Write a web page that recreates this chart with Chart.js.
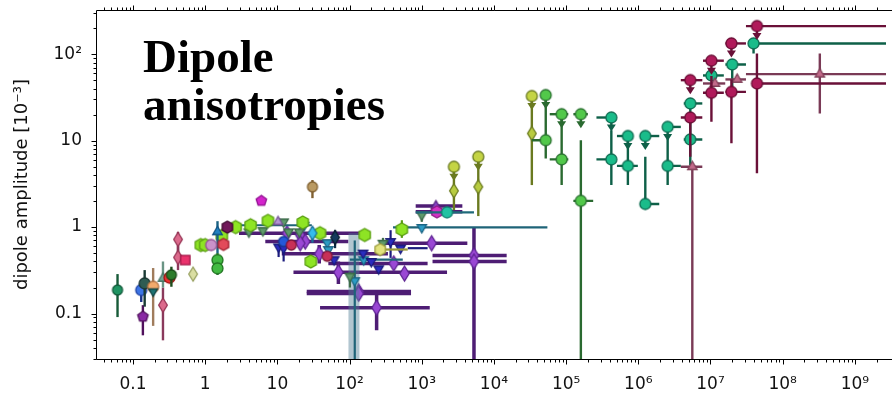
<!DOCTYPE html>
<html lang="en">
<head>
<meta charset="UTF-8">
<title>Dipole anisotropies</title>
<style>
  body { margin: 0; background: #fff; }
  .wrap { position: relative; width: 892px; height: 393px; overflow: hidden; }
  .note {
    position: absolute; left: 143px; top: 32px;
    font: bold 47px/48px 'Liberation Serif', 'Times New Roman', serif;
    color: #000;
  }
</style>
<script src="https://cdn.jsdelivr.net/npm/chart.js"></script>
</head>
<body>
<div class="wrap">
  <canvas id="dipoleChart" width="892" height="393"></canvas>
  <div class="note">Dipole<br>anisotropies</div>
</div>
<script>
// axis ticks
const xTickValues = [0.1, 1, 10, 1e2, 1e3, 1e4, 1e5, 1e6, 1e7, 1e8, 1e9];
const xTickLabels = ['0.1', '1', '10', '10²', '10³', '10⁴', '10⁵', '10⁶', '10⁷', '10⁸', '10⁹'];
const yTickValues = [0.1, 1, 10, 100];
const yTickLabels = ['0.1', '1', '10', '10²'];

// rows: [x, y, xLow, xHigh, yLow, yHigh]
const purpleDiamonds = [
  [13.6, 0.85, 2.94, 180, null, null],
  [20.7, 0.81, null, null, null, null],
  [24.3, 0.68, 6.8, 96, null, null],
  [20.7, 0.65, null, null, null, null],
  [38, 0.49, 11.5, 340, 0.38, 0.62],
  [70, 0.30, 16.7, 2240, 0.22, 0.40],
  [134, 0.18, 25.5, 710, null, null],
  [134, 0.17, 25.5, 710, null, null],
  [237, 0.117, 39, 1290, 0.064, 0.165],
  [410, 0.38, 50.8, 1205, null, null],
  [577, 0.29, null, null, null, null],
  [1370, 0.65, 300, 4280, null, null],
  [5290, 0.47, 1410, 15000, null, null],
  [5290, 0.40, 1410, 15000, 0.01, 1.0]
];
const violetTriangles = [[1570, 1.75, 824, 3650, null, null]];
const magentaHexagons = [[1620, 1.5, 824, 3650, null, null]];
const steelBand = [[115, 0.5, null, null, 0.01, 0.85]];
const tealDown = [
  [23.5, 1.05, 2.64, 30, null, null],
  [49, 0.66, null, null, null, null],
  [50.8, 0.55, null, null, null, null],
  [157, 0.42, 101, 546, null, null],
  [118, 0.24, null, null, 0.01, 0.7],
  [1000, 0.99, 400, 55000, null, null]
];
const navyDown = [
  [10.4, 0.59, null, null, 0.45, 0.59],
  [12.2, 0.57, null, null, 0.40, 0.57],
  [370, 0.68, null, null, 0.44, 0.92],
  [508, 0.57, 640, 1205, null, null],
  [154, 0.50, null, null, null, null],
  [200, 0.40, null, null, null, null],
  [253, 0.33, null, null, null, null],
  [61, 0.42, null, null, null, null]
];
const sageDown = [
  [4.03, 0.88, null, null, null, null],
  [6.3, 0.91, null, null, null, null],
  [12.2, 1.15, null, null, null, null],
  [14.3, 0.88, null, null, null, null],
  [20.1, 0.88, null, null, null, null],
  [290, 0.65, null, null, 0.55, 0.75],
  [101, 0.27, null, null, 0.2, 0.3],
  [1000, 1.38, null, null, 1.15, 1.5]
];
const paleHexagons = [[266, 0.55, 240, 640, null, null]];
const limeHexagons = [
  [0.87, 0.62, null, null, null, null],
  [1.0, 0.62, null, null, null, null],
  [1.70, 0.79, null, null, null, null],
  [2.64, 1.0, null, null, null, null],
  [4.25, 1.05, null, null, null, null],
  [7.4, 1.18, null, null, null, null],
  [22.5, 1.13, null, null, null, null],
  [39, 0.85, null, null, null, null],
  [162, 0.81, null, null, null, null],
  [29, 0.40, null, null, null, null],
  [530, 0.94, null, null, 0.75, 1.2]
];
const blueDots = [[12.2, 0.68, null, null, null, null]];
const crimsonDots = [[15.6, 0.62, null, null, null, null], [49, 0.46, null, null, null, null]];
const cyanDiamonds = [[30.6, 0.85, null, null, 0.66, 1.0]];
const navyDiamonds = [[63, 0.76, null, null, 0.57, 0.92]];
const lavenderTriangles = [[10.2, 1.15, null, null, null, null]];

const roseDiamonds = [
  [0.26, 0.125, null, null, 0.049, 0.2],
  [0.42, 0.72, null, null, 0.5, 0.88],
  [0.42, 0.446, null, null, 0.318, 0.6]
];
const pineDots = [[0.061, 0.187, null, null, 0.091, 0.286]];
const azureDots = [[0.13, 0.187, null, null, 0.136, 0.244]];
const plumPentagons = [[0.137, 0.092, null, null, 0.056, 0.125]];
const slateDots = [[0.145, 0.223, null, null, 0.12, 0.318]];
const sandyDots = [[0.19, 0.204, null, null, 0.072, 0.336]];
const darkTealDown = [[0.19, 0.18, null, null, null, null]];
const sageTriangles = [[0.26, 0.255, null, null, 0.2, 0.40]];
const redDots = [[0.32, 0.26, null, null, null, null]];
const forestDots = [[0.34, 0.28, null, null, 0.204, 0.348]];
const pinkSquares = [[0.53, 0.416, null, null, null, null]];
const creamDiamonds = [[0.68, 0.286, null, null, 0.25, 0.32]];
const greenDots = [[1.48, 0.416, null, null, 0.36, 0.5], [1.48, 0.333, null, null, 0.28, 0.4]];
const ceruleanTriangles = [[1.48, 0.88, null, null, 0.5, 1.17]];
const mauveDots = [[1.21, 0.62, null, null, null, null]];
const redHexagons = [[1.79, 0.63, null, null, null, null]];
const wineHexagons = [[2.03, 1.0, null, null, null, null]];
const magentaPentagons = [[6.0, 2.01, null, null, null, null]];
const tanDots = [[30.6, 2.92, null, null, 2.16, 3.5]];
const aquaDots = [[2240, 1.48, 824, 5290, null, null]];

const oliveDiamonds = [
  [2790, 2.63, null, null, 1.57, 4.98],
  [6070, 2.92, null, null, 1.34, 6.5],
  [33500, 12.1, null, null, 3.06, 32.7]
];
const oliveLimits = [
  [2790, 4.98, null, null, null, null],
  [6070, 6.5, null, null, null, null],
  [33500, 32.7, null, null, null, null]
];
const leafDots = [
  [52200, 10.1, 33500, 59300, 6.2, 33.6],
  [86700, 6.06, 59300, 107000, 3.06, 20.2],
  [160000, 2.01, 126000, 237000, 0.01, 10.1]
];
const leafLimits = [
  [52200, 33.6, null, null, null, null],
  [86700, 20.2, 59300, 107000, null, null],
  [160000, 20.2, 126000, 200000, null, null]
];
const jadeDots = [
  [423000, 6.06, 263000, 423000, 3.06, 13.2],
  [717000, 5.1, 506000, 985000, 3.06, 10.6],
  [1.25e6, 1.85, 1.25e6, 1.95e6, 1.85, 6.5],
  [2.55e6, 5.1, 2.55e6, 3.88e6, 3.06, 10.6],
  [5.25e6, 26.9, 4.27e6, 7.7e6, null, null],
  [5.25e6, 10.3, 4.27e6, 7.7e6, 5.2, 26.9],
  [1.03e7, 56.7, 7.87e6, 1.53e7, null, null],
  [2.0e7, 76, 1.61e7, 3.1e7, 38, 76],
  [3.95e7, 133, 4.6e7, 1e10, 102, 133]
];
const jadeLimits = [
  [423000, 18.5, 263000, 423000, null, null],
  [717000, 11.3, 506000, 717000, null, null],
  [1.25e6, 11.3, 1.25e6, 1.95e6, null, null],
  [2.55e6, 14.4, 2.55e6, 3.88e6, null, null]
];
const roseTriangles = [
  [5.6e6, 4.98, 3.88e6, 7.7e6, 0.01, 4.98],
  [1.15e7, 45.8, 7.87e6, 1.6e7, null, null],
  [2.34e7, 51, 1.61e7, 3.1e7, null, null],
  [3.27e8, 58.7, 3.1e7, 1e10, 20.6, 102]
];
const maroonDots = [
  [5.25e6, 18.5, 3.88e6, 7.7e6, 6.5, 18.5],
  [1.03e7, 35.7, 7.87e6, 1.53e7, 16.5, 56],
  [1.95e7, 36.6, 1.61e7, 3.1e7, 9.3, 51],
  [4.4e7, 45.8, 4.6e7, 1e10, 4.18, 102]
];
const maroonLimits = [
  [5.25e6, 50, 3.88e6, 7.7e6, null, null],
  [1.03e7, 84, 7.87e6, 1.53e7, null, null],
  [1.95e7, 133, 1.61e7, 3.1e7, null, null],
  [4.4e7, 211, 3.1e7, 1e10, null, null]
];

// marker sprites (matplotlib-like shapes with a dark edge)
function marker(shape, fill, edge, size) {
  const w = Math.ceil(size) + 4;
  const c = document.createElement('canvas');
  c.width = w; c.height = w;
  const g = c.getContext('2d');
  const m = w / 2, r = size / 2;
  const poly = (n, start) => {
    for (let i = 0; i < n; i++) {
      const a = start + i * 2 * Math.PI / n;
      const px = m + r * Math.cos(a), py = m + r * Math.sin(a);
      i ? g.lineTo(px, py) : g.moveTo(px, py);
    }
    g.closePath();
  };
  g.beginPath();
  if (shape === 'o') g.arc(m, m, r, 0, Math.PI * 2);
  else if (shape === 's') g.rect(m - r * 0.85, m - r * 0.85, r * 1.7, r * 1.7);
  else if (shape === 'd') {
    g.moveTo(m, m - r); g.lineTo(m + r * 0.62, m); g.lineTo(m, m + r); g.lineTo(m - r * 0.62, m); g.closePath();
  }
  else if (shape === 'h') poly(6, -Math.PI / 2);
  else if (shape === 'p') poly(5, -Math.PI / 2);
  else if (shape === '^') poly(3, -Math.PI / 2);
  else if (shape === 'v') poly(3, Math.PI / 2);
  g.fillStyle = fill;
  g.fill();
  g.lineWidth = 1.3;
  g.strokeStyle = edge;
  g.stroke();
  return c;
}

// draw order: first entry is painted first
const series = [
  { rows: purpleDiamonds, shape: 'd', fill: '#9a48d4', edge: '#5c2290', bar: '#4e1d74', bw: 3.5, size: 15 },
  { rows: violetTriangles, shape: '^', fill: '#8a44c8', edge: '#52207e', bar: '#4e1d74', bw: 3.5, size: 11 },
  { rows: magentaHexagons, shape: 'h', fill: '#d234c4', edge: '#8e1a84', bar: '#4e1d74', bw: 3.5, size: 12 },
  { rows: steelBand, shape: null, bar: 'rgba(84, 128, 150, 0.45)', bw: 11 },
  { rows: tealDown, shape: 'v', fill: '#2c9cc4', edge: '#1a6484', bar: '#1f6478', bw: 2.2, size: 11 },
  { rows: navyDown, shape: 'v', fill: '#2a2cc0', edge: '#181a78', bar: '#1c1c7e', bw: 2.2, size: 11 },
  { rows: sageDown, shape: 'v', fill: '#5e9a6a', edge: '#3a6848', bar: '#3f6e48', bw: 2.2, size: 11 },
  { rows: paleHexagons, shape: 'h', fill: '#e2e27c', edge: '#9c9c3c', bar: '#9a9a38', bw: 2.2, size: 12 },
  { rows: limeHexagons, shape: 'h', fill: '#8ee424', edge: '#5a9e12', bar: '#5a9e12', bw: 2.2, size: 13 },
  { rows: blueDots, shape: 'o', fill: '#2458d8', edge: '#163a94', bar: '#163a94', bw: 2, size: 10 },
  { rows: crimsonDots, shape: 'o', fill: '#c83058', edge: '#80183a', bar: '#80183a', bw: 2, size: 10 },
  { rows: cyanDiamonds, shape: 'd', fill: '#34bcec', edge: '#1a7098', bar: '#1a7098', bw: 2.2, size: 14 },
  { rows: navyDiamonds, shape: 'd', fill: '#143a5c', edge: '#0a1c2e', bar: '#0e2a44', bw: 2.2, size: 14 },
  { rows: lavenderTriangles, shape: '^', fill: '#b494d4', edge: '#705090', bar: '#705090', bw: 2, size: 11 },
  { rows: roseDiamonds, shape: 'd', fill: '#dc6a8c', edge: '#963454', bar: '#8a3a5c', bw: 2.4, size: 14 },
  { rows: pineDots, shape: 'o', fill: '#1f9462', edge: '#125a3a', bar: '#175a38', bw: 2.4, size: 10 },
  { rows: azureDots, shape: 'o', fill: '#3c74e4', edge: '#2244a4', bar: '#1c3488', bw: 2.4, size: 11 },
  { rows: plumPentagons, shape: 'p', fill: '#8a2aa4', edge: '#50105c', bar: '#50105c', bw: 2.4, size: 11 },
  { rows: slateDots, shape: 'o', fill: '#2f5c52', edge: '#1a3530', bar: '#1a3a34', bw: 2.4, size: 11 },
  { rows: sandyDots, shape: 'o', fill: '#f2aa6c', edge: '#b07040', bar: '#a07c5c', bw: 2.4, size: 11 },
  { rows: darkTealDown, shape: 'v', fill: '#207474', edge: '#104444', bar: '#104444', bw: 2, size: 10 },
  { rows: sageTriangles, shape: '^', fill: '#74a494', edge: '#447464', bar: '#6a9484', bw: 2.4, size: 11 },
  { rows: redDots, shape: 'o', fill: '#ec3030', edge: '#a01818', bar: '#a01818', bw: 2, size: 11 },
  { rows: forestDots, shape: 'o', fill: '#2c7c2c', edge: '#1a4a1a', bar: '#1e4e1e', bw: 2.4, size: 10 },
  { rows: pinkSquares, shape: 's', fill: '#ea326c', edge: '#a01848', bar: '#a01848', bw: 2, size: 11 },
  { rows: creamDiamonds, shape: 'd', fill: '#dadea2', edge: '#98a060', bar: '#98a060', bw: 2.4, size: 14 },
  { rows: greenDots, shape: 'o', fill: '#42ba42', edge: '#207220', bar: '#1c6a2c', bw: 2.4, size: 11 },
  { rows: ceruleanTriangles, shape: '^', fill: '#2282c2', edge: '#105282', bar: '#1a6282', bw: 2.4, size: 11 },
  { rows: mauveDots, shape: 'o', fill: '#ca92ca', edge: '#905090', bar: '#905090', bw: 2, size: 11 },
  { rows: redHexagons, shape: 'h', fill: '#e24a5a', edge: '#a02030', bar: '#a02030', bw: 2, size: 12 },
  { rows: wineHexagons, shape: 'h', fill: '#72185a', edge: '#400830', bar: '#400830', bw: 2, size: 12 },
  { rows: magentaPentagons, shape: 'p', fill: '#d424cc', edge: '#901090', bar: '#901090', bw: 2, size: 11 },
  { rows: tanDots, shape: 'o', fill: '#ba9a62', edge: '#806030', bar: '#806030', bw: 2.4, size: 10 },
  { rows: aquaDots, shape: 'o', fill: '#22c2a2', edge: '#108070', bar: '#1f6a7a', bw: 2.2, size: 11 },
  { rows: oliveDiamonds, shape: 'd', fill: '#b8cc40', edge: '#6a7a20', bar: '#6a7a20', bw: 2.4, size: 14 },
  { rows: oliveLimits, shape: 'o', fill: '#c4d444', edge: '#6a7a20', bar: '#6a7a20', bw: 2.4, size: 11, limit: true },
  { rows: leafDots, shape: 'o', fill: '#52c84a', edge: '#2a7030', bar: '#2a6a30', bw: 2.4, size: 11 },
  { rows: leafLimits, shape: 'o', fill: '#52c84a', edge: '#2a7030', bar: '#2a6a30', bw: 2.4, size: 11, limit: true },
  { rows: jadeDots, shape: 'o', fill: '#1abc8a', edge: '#0e6a50', bar: '#0e6048', bw: 2.4, size: 11 },
  { rows: jadeLimits, shape: 'o', fill: '#1abc8a', edge: '#0e6a50', bar: '#0e6048', bw: 2.4, size: 11, limit: true },
  { rows: roseTriangles, shape: '^', fill: '#c26a8a', edge: '#804058', bar: '#7a3a56', bw: 2.4, size: 11 },
  { rows: maroonDots, shape: 'o', fill: '#b01a5a', edge: '#6a0c34', bar: '#6a1038', bw: 2.4, size: 11 },
  { rows: maroonLimits, shape: 'o', fill: '#b01a5a', edge: '#6a0c34', bar: '#6a1038', bw: 2.4, size: 11, limit: true }
];

const datasets = series.map(s => ({
  data: s.rows.map(r => ({ x: r[0], y: r[1] })),
  rows: s.rows,
  upperLimit: !!s.limit,
  barColor: s.bar,
  barWidth: s.bw,
  pointStyle: s.shape ? marker(s.shape, s.fill, s.edge, s.size) : false,
  pointRadius: s.shape ? 5 : 0,
  pointHoverRadius: s.shape ? 5 : 0
})).reverse(); // Chart.js paints dataset 0 last

// error bars and upper-limit arrows, painted just under each dataset's markers
const errorBars = {
  id: 'errorBars',
  beforeDatasetDraw(chart, args) {
    const ds = chart.data.datasets[args.index];
    if (!ds.rows) return;
    const { ctx, chartArea: a, scales: { x, y } } = chart;
    ctx.save();
    ctx.beginPath();
    ctx.rect(a.left, a.top, a.right - a.left, a.bottom - a.top);
    ctx.clip();
    ctx.strokeStyle = ds.barColor;
    ctx.fillStyle = ds.barColor;
    ctx.lineWidth = ds.barWidth;
    ds.rows.forEach(r => {
      const px = x.getPixelForValue(r[0]);
      const py = y.getPixelForValue(r[1]);
      ctx.beginPath();
      if (r[2] != null) {
        ctx.moveTo(x.getPixelForValue(r[2]), py);
        ctx.lineTo(x.getPixelForValue(r[3]), py);
      }
      if (r[4] != null) {
        ctx.moveTo(px, y.getPixelForValue(r[4]));
        ctx.lineTo(px, y.getPixelForValue(r[5]));
      }
      ctx.stroke();
      if (ds.upperLimit) {
        ctx.beginPath();
        ctx.moveTo(px, py);
        ctx.lineTo(px, py + 9);
        ctx.stroke();
        ctx.beginPath();
        ctx.moveTo(px - 4.5, py + 7);
        ctx.lineTo(px + 4.5, py + 7);
        ctx.lineTo(px, py + 14);
        ctx.closePath();
        ctx.fill();
      }
    });
    ctx.restore();
  }
};

// spines plus major/minor tick marks on the left, bottom and top
const axesFrame = {
  id: 'axesFrame',
  afterDatasetsDraw(chart) {
    const { ctx, chartArea: a, scales: { x, y } } = chart;
    const left = Math.round(a.left) + 0.5, top = Math.round(a.top) + 0.5, bottom = Math.round(a.bottom) + 0.5;
    ctx.save();
    ctx.strokeStyle = '#000';
    ctx.lineWidth = 1;
    ctx.beginPath();
    ctx.moveTo(chart.width, top); ctx.lineTo(left, top);
    ctx.lineTo(left, bottom); ctx.lineTo(chart.width, bottom);
    for (let e = -2; e <= 9; e++) {
      for (let m = 1; m <= 9; m++) {
        const v = m * Math.pow(10, e);
        const len = m === 1 ? 5 : 3;
        if (v >= x.min && v <= x.max) {
          const px = Math.round(x.getPixelForValue(v)) + 0.5;
          ctx.moveTo(px, bottom); ctx.lineTo(px, bottom + len);
          ctx.moveTo(px, top); ctx.lineTo(px, top - len);
        }
        if (v >= y.min && v <= y.max) {
          const py = Math.round(y.getPixelForValue(v)) + 0.5;
          ctx.moveTo(left, py); ctx.lineTo(left - len, py);
        }
      }
    }
    ctx.stroke();
    ctx.restore();
  }
};

const tickFont = { family: 'DejaVu Sans', size: 17 };

new Chart(document.getElementById('dipoleChart').getContext('2d'), {
  type: 'scatter',
  data: { datasets },
  options: {
    responsive: false,
    animation: false,
    devicePixelRatio: 1,
    layout: { padding: { top: 10, right: 0, left: 0, bottom: 0 } },
    plugins: { legend: { display: false }, tooltip: { enabled: false } },
    scales: {
      x: {
        type: 'logarithmic',
        min: 0.0307,
        max: 2.7e9,
        grid: { display: false, drawTicks: false },
        border: { display: false },
        afterBuildTicks: s => { s.ticks = xTickValues.map(v => ({ value: v })); },
        afterFit: s => { s.height = 34; s.paddingLeft = 0; s.paddingRight = 0; },
        ticks: {
          autoSkip: false, maxRotation: 0, padding: 15, color: '#111', font: tickFont,
          callback: v => { const i = xTickValues.indexOf(v); return i < 0 ? '' : xTickLabels[i]; }
        }
      },
      y: {
        type: 'logarithmic',
        min: 0.0298,
        max: 324,
        grid: { display: false, drawTicks: false },
        border: { display: false },
        afterBuildTicks: s => { s.ticks = yTickValues.map(v => ({ value: v })); },
        afterFit: s => { s.width = 96; s.paddingTop = 0; s.paddingBottom = 0; },
        title: {
          display: true,
          text: 'dipole amplitude [10⁻³]',
          color: '#111',
          font: { family: 'DejaVu Sans', size: 18 },
          padding: { top: 12, bottom: 0 }
        },
        ticks: {
          autoSkip: false, padding: 14, color: '#111', font: tickFont,
          callback: v => { const i = yTickValues.indexOf(v); return i < 0 ? '' : yTickLabels[i]; }
        }
      }
    }
  },
  plugins: [errorBars, axesFrame]
});
</script>
</body>
</html>
